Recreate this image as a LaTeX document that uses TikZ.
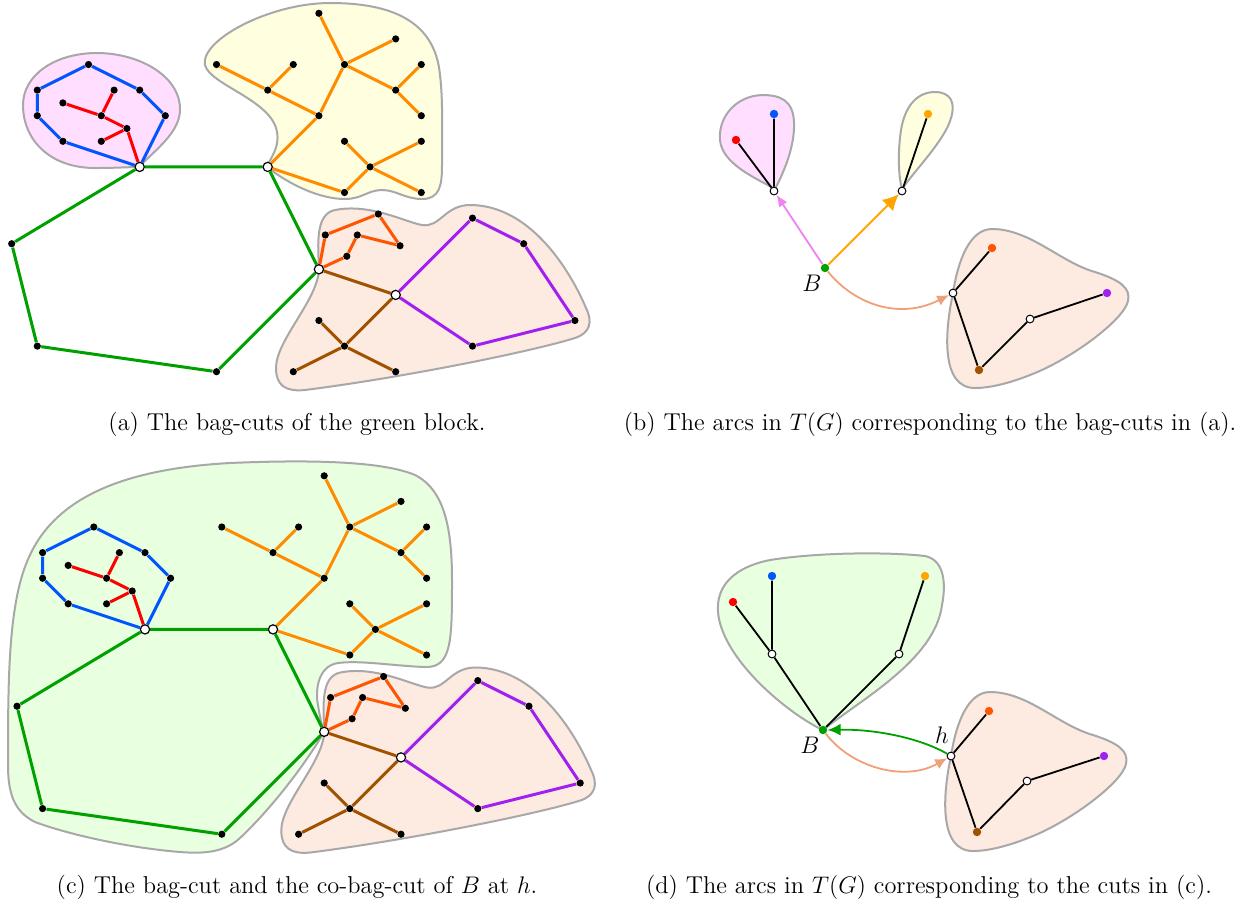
\documentclass[tikz,border=0pt]{standalone}
\usetikzlibrary{arrows.meta}
\pgfdeclarelayer{blob}
\pgfdeclarelayer{edge}
\pgfsetlayers{blob,edge,main}
\definecolor{cblue}{RGB}{0,85,255}
\definecolor{cred}{RGB}{255,0,0}
\definecolor{cgreen}{RGB}{0,160,0}
\definecolor{corange}{RGB}{255,140,0}
\definecolor{cored}{RGB}{255,85,0}
\definecolor{cbrown}{RGB}{160,82,0}
\definecolor{cpurple}{RGB}{160,32,240}
\definecolor{fpink}{RGB}{255,222,255}
\definecolor{fyellow}{RGB}{255,255,224}
\definecolor{fpeach}{RGB}{253,234,224}
\definecolor{fgreen}{RGB}{232,255,224}
\definecolor{bgray}{RGB}{168,168,168}
\definecolor{cviolet}{RGB}{238,130,238}
\definecolor{carrorange}{RGB}{255,165,0}
\definecolor{csalmon}{RGB}{240,160,120}
\tikzset{
  blobline/.style={draw=bgray,line width=1pt},
  gedge/.style={line width=1.5pt},
  bdot/.style={circle,fill=black,inner sep=0pt,minimum size=3.6pt},
  cutv/.style={circle,draw=black,fill=white,line width=0.6pt,inner sep=0pt,minimum size=4.6pt},
  tdot/.style={circle,inner sep=0pt,minimum size=4.2pt},
  twhite/.style={circle,draw=black,fill=white,line width=0.5pt,inner sep=0pt,minimum size=3.9pt},
  tedge/.style={line width=0.9pt},
  captext/.style={font=\fontsize{12.2}{14}\selectfont},
  labtext/.style={font=\fontsize{12.5}{14}\selectfont}
}
\newcommand\drawgraph[1]{%
  \node[bdot] (#1b1) at (3,2) {};
  \node[bdot] (#1b2) at (5,3) {};
  \node[bdot] (#1b3) at (6,4) {};
  \node[bdot] (#1b4) at (2,5) {};
  \node[bdot] (#1b5) at (1,4) {};
  \node[bdot] (#1b6) at (1,3) {};
  \node[cutv] (#1A) at (5,6) {};
  \node[bdot] (#1r1) at (2,3.5) {};
  \node[bdot] (#1r2) at (3.5,4) {};
  \node[bdot] (#1r3) at (4,3) {};
  \node[bdot] (#1r4) at (4.5,4.5) {};
  \node[bdot] (#1r5) at (3.5,5) {};
  \node[cutv] (#1C) at (10,6) {};
  \node[cutv] (#1D) at (12,10) {};
  \node[bdot] (#1g1) at (8,14) {};
  \node[bdot] (#1g2) at (1,13) {};
  \node[bdot] (#1g3) at (0,9) {};
  \node[bdot] (#1o1) at (12,0) {};
  \node[bdot] (#1o2) at (15,1) {};
  \node[bdot] (#1o3) at (13,2) {};
  \node[bdot] (#1o4) at (8,2) {};
  \node[bdot] (#1o5) at (11,2) {};
  \node[bdot] (#1o6) at (16,2) {};
  \node[bdot] (#1o7) at (10,3) {};
  \node[bdot] (#1o8) at (15,3) {};
  \node[bdot] (#1o9) at (12,4) {};
  \node[bdot] (#1o10) at (16,4) {};
  \node[bdot] (#1o11) at (13,5) {};
  \node[bdot] (#1o12) at (16,5) {};
  \node[bdot] (#1o13) at (14,6) {};
  \node[bdot] (#1o14) at (13,7) {};
  \node[bdot] (#1o15) at (16,7) {};
  \node[bdot] (#1q1) at (12.25,8.66) {};
  \node[bdot] (#1q2) at (14.32,7.84) {};
  \node[bdot] (#1q3) at (15.17,9.08) {};
  \node[bdot] (#1q4) at (13.5,8.66) {};
  \node[bdot] (#1q5) at (13.09,9.49) {};
  \node[cutv] (#1E) at (15,11) {};
  \node[bdot] (#1n1) at (13,13) {};
  \node[bdot] (#1n2) at (12,12) {};
  \node[bdot] (#1n3) at (11,14) {};
  \node[bdot] (#1n4) at (15,14) {};
  \node[bdot] (#1p1) at (18,8) {};
  \node[bdot] (#1p2) at (20,9) {};
  \node[bdot] (#1p3) at (22,12) {};
  \node[bdot] (#1p4) at (18,13) {};
  \begin{pgfonlayer}{edge}
    \draw[gedge,cblue] (#1b1)--(#1b2) (#1b2)--(#1b3) (#1b3)--(#1A) (#1A)--(#1b4) (#1b4)--(#1b5) (#1b5)--(#1b6) (#1b6)--(#1b1);
    \draw[gedge,cred] (#1r1)--(#1r2) (#1r2)--(#1r3) (#1r2)--(#1r4) (#1r4)--(#1r5) (#1r4)--(#1A);
    \draw[gedge,cgreen] (#1A)--(#1C) (#1C)--(#1D) (#1D)--(#1g1) (#1g1)--(#1g2) (#1g2)--(#1g3) (#1g3)--(#1A);
    \draw[gedge,corange] (#1o1)--(#1o3) (#1o3)--(#1o2) (#1o3)--(#1o8) (#1o8)--(#1o6) (#1o8)--(#1o10)
      (#1o3)--(#1o9) (#1o4)--(#1o7) (#1o7)--(#1o5) (#1o7)--(#1o9) (#1o9)--(#1C)
      (#1C)--(#1o14) (#1o14)--(#1o13) (#1o13)--(#1o11) (#1o13)--(#1o12) (#1o13)--(#1o15);
    \draw[gedge,cored] (#1D)--(#1q1) (#1q1)--(#1q2) (#1q2)--(#1q3) (#1q3)--(#1q4) (#1q4)--(#1q5) (#1q5)--(#1D);
    \draw[gedge,cbrown] (#1D)--(#1E) (#1E)--(#1n1) (#1n1)--(#1n2) (#1n1)--(#1n3) (#1n1)--(#1n4);
    \draw[gedge,cpurple] (#1E)--(#1p1) (#1p1)--(#1p2) (#1p2)--(#1p3) (#1p3)--(#1p4) (#1p4)--(#1E);
  \end{pgfonlayer}
}
\newcommand\peachApath{(319,269) .. controls (318,300) and (276,340) .. (276,368)
  .. controls (276,385) and (285,392) .. (305,390)
  .. controls (400,378) and (530,352) .. (575,338)
  .. controls (590,333) and (593,322) .. (586,308)
  .. controls (570,270) and (530,205) .. (470,205)
  .. controls (445,205) and (440,228) .. (422,225)
  .. controls (405,222) and (370,203) .. (335,210)
  .. controls (315,214) and (318,245) .. cycle}
\newcommand\peachBpath{(953,293) .. controls (958,260) and (970,229) .. (992,229)
  .. controls (1030,229) and (1060,262) .. (1095,272)
  .. controls (1120,280) and (1131,288) .. (1128,301)
  .. controls (1124,320) and (1070,360) .. (1030,375)
  .. controls (1010,383) and (990,388) .. (975,388)
  .. controls (940,388) and (945,330) .. cycle}
\begin{document}
\begin{tikzpicture}[x=0.5pt,y=-0.5pt]
\useasboundingbox (0,0) rectangle (1242,907);
% ---------- (a) ----------
\begin{pgfonlayer}{blob}
  \filldraw[blobline,fill=fpink] (139,167) .. controls (155,150) and (181,132) .. (180,108)
    .. controls (179,75) and (138,53) .. (97,53)
    .. controls (55,53) and (23,75) .. (23,105)
    .. controls (23,140) and (50,168) .. (95,168)
    .. controls (115,168) and (130,167) .. cycle;
  \filldraw[blobline,fill=fyellow] (267,167) .. controls (290,185) and (320,199) .. (345,199)
    .. controls (362,199) and (368,190) .. (382,190)
    .. controls (396,190) and (405,199) .. (422,199)
    .. controls (440,199) and (442,185) .. (442,165)
    .. controls (442,130) and (443,100) .. (440,75)
    .. controls (435,20) and (390,3) .. (330,3)
    .. controls (270,3) and (200,40) .. (205,65)
    .. controls (210,85) and (272,100) .. (277,132)
    .. controls (280,148) and (270,158) .. cycle;
  \filldraw[blobline,fill=fpeach] \peachApath;
\end{pgfonlayer}
\begin{scope}[shift={(5.85pt,-6.65pt)},x=12.8pt,y=-12.8pt]
  \drawgraph{a}
\end{scope}
\node[captext] (capa) at (297,424) {(a) The bag-cuts of the green block.};
% ---------- (c) ----------
\begin{pgfonlayer}{blob}
  \filldraw[blobline,fill=fgreen] (324,732) .. controls (305,765) and (270,810) .. (240,838)
    .. controls (225,852) and (205,854) .. (180,852)
    .. controls (130,848) and (70,835) .. (35,822)
    .. controls (15,812) and (8,795) .. (8,765)
    .. controls (8,680) and (8,600) .. (30,555)
    .. controls (60,490) and (140,468) .. (230,463)
    .. controls (300,460) and (380,460) .. (415,475)
    .. controls (445,490) and (452,530) .. (452,580)
    .. controls (452,640) and (452,668) .. (425,667)
    .. controls (395,666) and (360,660) .. (338,663)
    .. controls (318,666) and (315,690) .. (318,705)
    .. controls (320,718) and (322,726) .. cycle;
  \begin{scope}[shift={(5.3,462.5)}]
    \filldraw[blobline,fill=fpeach] \peachApath;
  \end{scope}
\end{pgfonlayer}
\begin{scope}[shift={(8.5pt,-237.9pt)},x=12.8pt,y=-12.8pt]
  \drawgraph{c}
\end{scope}
\node[captext] (capc) at (297,887) {(c) The bag-cut and the co-bag-cut of $B$ at $h$.};
% ---------- (b) ----------
\begin{pgfonlayer}{blob}
  \filldraw[blobline,fill=fpink] (775,189) .. controls (785,170) and (795,145) .. (794,122)
    .. controls (793,100) and (780,95) .. (762,95)
    .. controls (735,96) and (718,118) .. (720,140)
    .. controls (722,165) and (760,180) .. cycle;
  \filldraw[blobline,fill=fyellow] (902,189) .. controls (898,175) and (898,150) .. (901,130)
    .. controls (905,105) and (918,92) .. (935,92)
    .. controls (950,92) and (956,102) .. (951,118)
    .. controls (945,140) and (915,170) .. cycle;
  \filldraw[blobline,fill=fpeach] \peachBpath;
\end{pgfonlayer}
\node[tdot,fill=cgreen] (bB) at (825,268) {};
\node[twhite] (bW1) at (774,191) {};
\node[tdot,fill=cred] (bR) at (736,140) {};
\node[tdot,fill=cblue] (bBl) at (774,114) {};
\node[twhite] (bW2) at (902,191) {};
\node[tdot,fill=carrorange] (bO) at (928,114) {};
\node[twhite] (bW3) at (953,293) {};
\node[tdot,fill=cored] (bOR) at (992,248) {};
\node[tdot,fill=cbrown] (bBr) at (979,370) {};
\node[twhite] (bW4) at (1030,319) {};
\node[tdot,fill=cpurple] (bP) at (1107,293) {};
\begin{pgfonlayer}{edge}
  \draw[tedge] (bR)--(bW1) (bBl)--(bW1) (bO)--(bW2) (bW3)--(bOR) (bW3)--(bBr) (bBr)--(bW4) (bW4)--(bP);
\end{pgfonlayer}
\draw[tedge,cviolet,-{Latex[length=6pt,width=5pt]}] (bB)--(bW1);
\draw[tedge,carrorange,-{Latex[length=8pt,width=8pt]}] (bB)--(bW2);
\draw[tedge,csalmon,-{Latex[length=6pt,width=5.5pt]}] (bB) .. controls (855,305) and (900,320) .. (bW3);
\node[labtext] (lB) at (812,283) {$B$};
\node[captext] (capb) at (930,424) {(b) The arcs in $T(G)$ corresponding to the bag-cuts in (a).};
% ---------- (d) ----------
\begin{pgfonlayer}{blob}
  \filldraw[blobline,fill=fgreen] (823,730) .. controls (790,715) and (722,660) .. (718,612)
    .. controls (716,585) and (735,567) .. (770,560)
    .. controls (820,552) and (890,552) .. (925,556)
    .. controls (945,560) and (946,585) .. (942,605)
    .. controls (935,660) and (860,700) .. cycle;
  \begin{scope}[shift={(-2,463)}]
    \filldraw[blobline,fill=fpeach] \peachBpath;
  \end{scope}
\end{pgfonlayer}
\node[tdot,fill=cgreen] (dB) at (823,730) {};
\node[twhite] (dW1) at (772,654) {};
\node[tdot,fill=cred] (dR) at (733,602) {};
\node[tdot,fill=cblue] (dBl) at (772,576) {};
\node[twhite] (dW2) at (899,654) {};
\node[tdot,fill=carrorange] (dO) at (925,576) {};
\node[twhite] (dh) at (951,756) {};
\node[tdot,fill=cored] (dOR) at (989,711) {};
\node[tdot,fill=cbrown] (dBr) at (977,832) {};
\node[twhite] (dW4) at (1027,781) {};
\node[tdot,fill=cpurple] (dP) at (1104,756) {};
\begin{pgfonlayer}{edge}
  \draw[tedge] (dR)--(dW1) (dBl)--(dW1) (dW1)--(dB) (dO)--(dW2) (dW2)--(dB) (dh)--(dOR) (dh)--(dBr) (dBr)--(dW4) (dW4)--(dP);
\end{pgfonlayer}
\draw[tedge,cgreen,-{Latex[length=6.5pt,width=6pt]}] (dh) .. controls (920,738) and (875,729) .. (dB);
\draw[tedge,csalmon,-{Latex[length=6pt,width=5.5pt]}] (dB) .. controls (852,768) and (905,782) .. (dh);
\node[labtext] (lB2) at (810,745) {$B$};
\node[labtext] (lh) at (942,735) {$h$};
\node[captext] (capd) at (929,887) {(d) The arcs in $T(G)$ corresponding to the cuts in (c).};
\end{tikzpicture}
\end{document}
